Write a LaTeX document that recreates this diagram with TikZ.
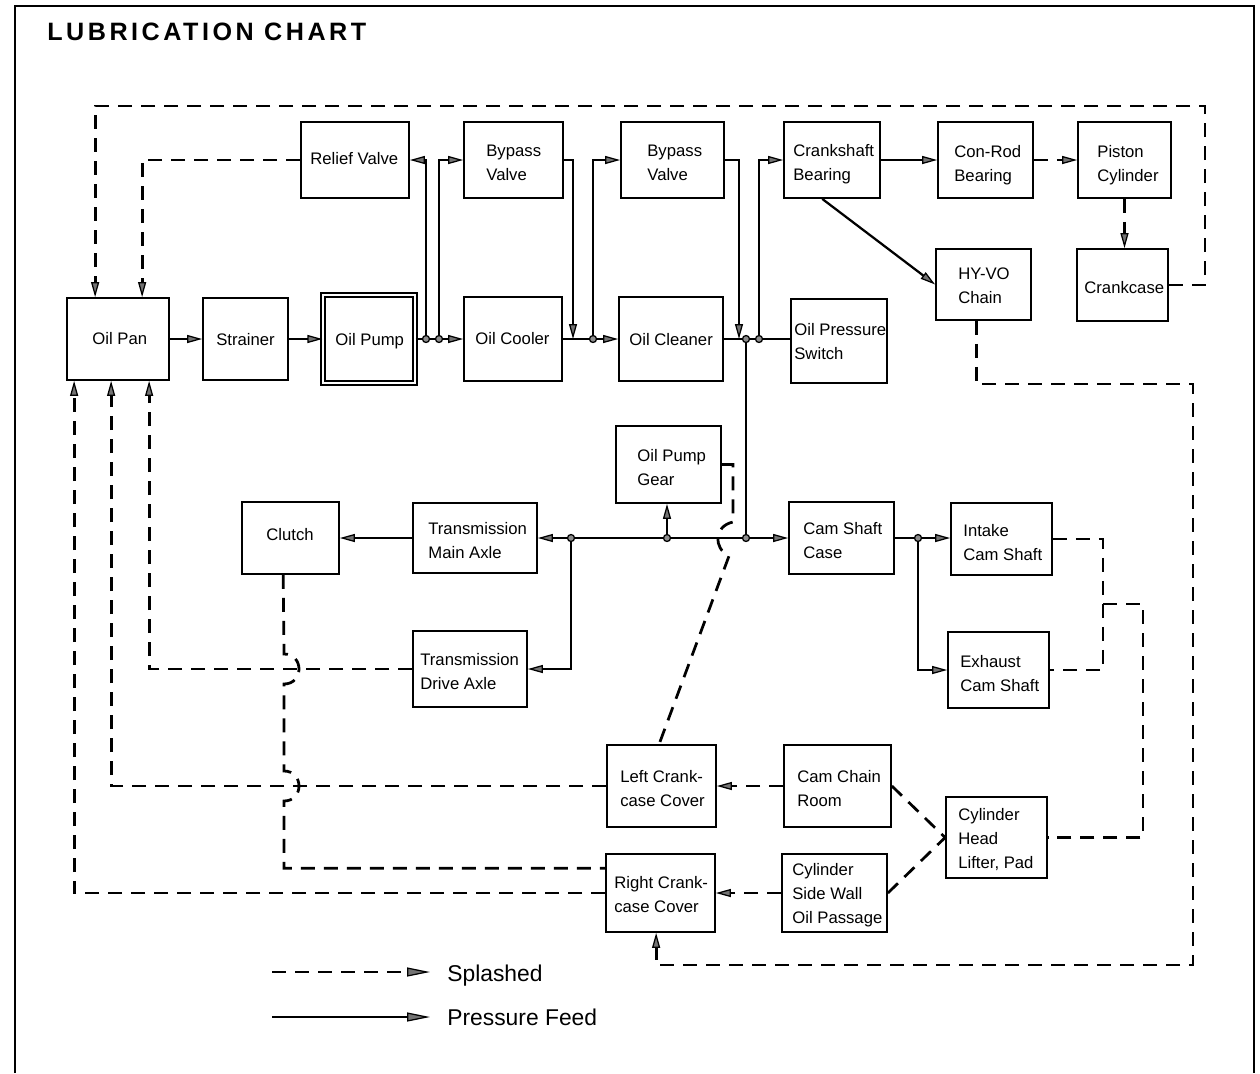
\documentclass[tikz,border=0pt]{standalone}
\usepackage{fontspec}
\setmainfont{Liberation Sans}
\usetikzlibrary{arrows.meta,fit,calc}
\begin{document}
\begin{tikzpicture}[x=0.2mm,y=-0.2mm,
  box/.style={draw, line width=0.35mm, inner sep=0pt, rectangle},
  txt/.style={inner sep=0pt, anchor=base west, align=left, font=\fontsize{9.5}{13.4}\selectfont},
  pf/.style={line width=0.45mm},
  sp/.style={line width=0.55mm, dash pattern=on 2.8mm off 1.8mm},
  jdot/.style={circle, draw, fill=black!45, inner sep=0pt, minimum size=1.4mm, line width=0.25mm},
  >={Triangle[length=3mm,width=1.6mm,fill=black!55,line width=0.25mm]},
  bigtip/.style={>={Triangle[length=4.6mm,width=1.8mm,fill=black!55,line width=0.25mm]}},
]
\useasboundingbox (0,0) rectangle (1260,1073);
% frame and title
\draw[line width=0.4mm] (15,1073) -- (15,6) -- (1254,6) -- (1254,1073);
\node[anchor=base west, inner sep=0pt, font=\fontsize{14.3}{16}\selectfont\bfseries\addfontfeature{LetterSpace=14}] (title) at (47,40) {LUBRICATION CHART};

% boxes
\node[box, fit={(301,122) (409,198)}] (relief) {};
\node[box, fit={(464,122) (563,198)}] (byp1) {};
\node[box, fit={(621,122) (724,198)}] (byp2) {};
\node[box, fit={(784,122) (880,198)}] (crkb) {};
\node[box, fit={(938,122) (1033,198)}] (conrod) {};
\node[box, fit={(1078,122) (1171,198)}] (piston) {};
\node[box, fit={(67,298) (169,380)}] (pan) {};
\node[box, fit={(203,298) (288,380)}] (strainer) {};
\node[box, double, double distance=0.55mm, line width=0.25mm, fit={(323,295) (415,383)}] (pump) {};
\node[box, fit={(464,297) (562,381)}] (cooler) {};
\node[box, fit={(619,297) (723,381)}] (cleaner) {};
\node[box, fit={(791,299) (887,383)}] (ops) {};
\node[box, fit={(936,249) (1031,320)}] (hyvo) {};
\node[box, fit={(1077,249) (1168,321)}] (crankcase) {};
\node[box, fit={(616,426) (721,503)}] (ogear) {};
\node[box, fit={(242,502) (339,574)}] (clutch) {};
\node[box, fit={(413,503) (537,573)}] (tma) {};
\node[box, fit={(789,502) (894,574)}] (camcase) {};
\node[box, fit={(951,503) (1052,575)}] (intake) {};
\node[box, fit={(413,631) (527,707)}] (tda) {};
\node[box, fit={(948,632) (1049,708)}] (exhaust) {};
\node[box, fit={(607,745) (716,827)}] (lcc) {};
\node[box, fit={(784,745) (891,827)}] (ccr) {};
\node[box, fit={(606,854) (715,932)}] (rcc) {};
\node[box, fit={(782,854) (887,932)}] (csw) {};
\node[box, fit={(946,797) (1047,878)}] (cylhead) {};

% texts (anchor = baseline of last line)
\node[txt] (relief-t) at (310,164) {Relief Valve};
\node[txt] (byp1-t) at (486,180) {Bypass\\Valve};
\node[txt] (byp2-t) at (647,180) {Bypass\\Valve};
\node[txt] (crkb-t) at (793,180) {Crankshaft\\Bearing};
\node[txt] (conrod-t) at (954,181) {Con-Rod\\Bearing};
\node[txt] (piston-t) at (1097,181) {Piston\\Cylinder};
\node[txt] (pan-t) at (92,344) {Oil Pan};
\node[txt] (strainer-t) at (216,345) {Strainer};
\node[txt] (pump-t) at (335,345) {Oil Pump};
\node[txt] (cooler-t) at (475,344) {Oil Cooler};
\node[txt] (cleaner-t) at (629,345) {Oil Cleaner};
\node[txt] (ops-t) at (794,359) {Oil Pressure\\Switch};
\node[txt] (hyvo-t) at (958,303) {HY-VO\\Chain};
\node[txt] (crankcase-t) at (1084,293) {Crankcase};
\node[txt] (ogear-t) at (637,485) {Oil Pump\\Gear};
\node[txt] (clutch-t) at (266,540) {Clutch};
\node[txt] (tma-t) at (428,558) {Transmission\\Main Axle};
\node[txt] (camcase-t) at (803,558) {Cam Shaft\\Case};
\node[txt] (intake-t) at (963,560) {Intake\\Cam Shaft};
\node[txt] (tda-t) at (420,689) {Transmission\\Drive Axle};
\node[txt] (exhaust-t) at (960,691) {Exhaust\\Cam Shaft};
\node[txt] (lcc-t) at (620,806) {Left Crank-\\case Cover};
\node[txt] (ccr-t) at (797,806) {Cam Chain\\Room};
\node[txt] (rcc-t) at (614,912) {Right Crank-\\case Cover};
\node[txt] (csw-t) at (792,923) {Cylinder\\Side Wall\\Oil Passage};
\node[txt] (cylhead-t) at (958,868) {Cylinder\\Head\\Lifter, Pad};

% junction coordinates
\coordinate (J1) at (426,339);
\coordinate (J2) at (439,339);
\coordinate (J3) at (593,339);
\coordinate (J4) at (746,339);
\coordinate (J5) at (759,339);
\coordinate (J6) at (746,538);
\coordinate (J7) at (667,538);
\coordinate (J8) at (571,538);
\coordinate (J9) at (918,538);
\coordinate (C1) at (573,339);
\coordinate (C2) at (739,339);
\coordinate (TR) at (1205,106);
\coordinate (HV1) at (1193,384);
\coordinate (HV2) at (1193,965);
\coordinate (M1) at (1103,604);
\coordinate (G1) at (733,522);

% pressure feed
\draw[pf,->] (pan.east) -- (strainer.west);
\draw[pf,->] (strainer.east) -- (pump.west);
\draw[pf,->] (pump.east) -- (cooler.west);
\draw[pf,->] (J1) |- (relief.east);
\draw[pf,->] (J2) |- (byp1.west);
\draw[pf,->] (byp1.east) -| (C1);
\draw[pf,->] (cooler.east) -- (cleaner.west);
\draw[pf,->] (J3) |- (byp2.west);
\draw[pf,->] (byp2.east) -| (C2);
\draw[pf] (cleaner.east) -- (ops.west |- cleaner.east);
\draw[pf,->] (J5) |- (crkb.west);
\draw[pf] (J4) -- (J6);
\draw[pf,->] (crkb.east) -- (conrod.west);
\draw[pf,->] ($(crkb.south west)!0.4!(crkb.south east)$) -- (hyvo.west);
\draw[pf,->] (J6) -- (camcase.west |- J6);
\draw[pf,->] (J6) -- (tma.east |- J6);
\draw[pf,->] (J7) -- (ogear.south -| J7);
\draw[pf,->] (J8) |- (tda.east);
\draw[pf,->] (tma.west) -- (clutch.east |- tma.west);
\draw[pf,->] (camcase.east) -- (intake.west |- camcase.east);
\draw[pf,->] (J9) |- (exhaust.west);

% splashed
\draw[sp,->] (crankcase.east) -| (TR) -| ($(pan.north west)+(29,0)$);
\draw[sp,->] (relief.west) -| ($(pan.north west)+(76,0)$);
\draw[sp,->] (conrod.east) -- (piston.west);
\draw[sp,->] (piston.south) -- (crankcase.north -| piston.south);
\draw[sp,->] ($(hyvo.south west)+(41,0)$) |- (HV1) -- (HV2) -| ($(rcc.south west)+(51,0)$);
\draw[sp] (intake.east) -| (M1) |- (exhaust.east);
\draw[sp] (M1) -| ($(cylhead.east)+(95,0)$) -- (cylhead.east);
\draw[sp,->] (ccr.west) -- (lcc.east |- ccr.west);
\draw[sp,->] (csw.west) -- (rcc.east);
\draw[sp] (ccr.east) -- (cylhead.west);
\draw[sp] (csw.east) -- (cylhead.west);
\draw[sp,->] (lcc.west) -| ($(pan.south west)+(45,0)$);
\draw[sp,->] (tda.west) -| ($(pan.south west)+(83,0)$);
\draw[sp,->] (rcc.west) -| ($(pan.south west)+(8,0)$);
\draw[sp] ($(clutch.south west)+(42,0)$) -- (284,654) .. controls (304,654) and (304,684) .. (284,684) -- (284,771) .. controls (304,771) and (304,801) .. (284,801) |- ($(rcc.north west)+(0,15)$);
\draw[sp] (ogear.east) -| (G1) .. controls (714,526) and (713,548) .. (729,556) -- ($(lcc.north west)+(53,0)$);

% junction dots
\foreach \j in {J1,J2,J3,J4,J5,J6,J7,J8,J9} \node[jdot] (d\j) at (\j) {};

% legend
\coordinate (L1a) at (272,972);
\coordinate (L1b) at (430,972);
\coordinate (L2a) at (272,1017);
\coordinate (L2b) at (430,1017);
\draw[sp,bigtip,->] (L1a) -- (L1b);
\draw[pf,bigtip,->] (L2a) -- (L2b);
\node[anchor=base west, inner sep=0pt, font=\fontsize{13}{15}\selectfont] (lg1) at (447,981) {Splashed};
\node[anchor=base west, inner sep=0pt, font=\fontsize{13}{15}\selectfont] (lg2) at (447,1025) {Pressure Feed};
\end{tikzpicture}
\end{document}
